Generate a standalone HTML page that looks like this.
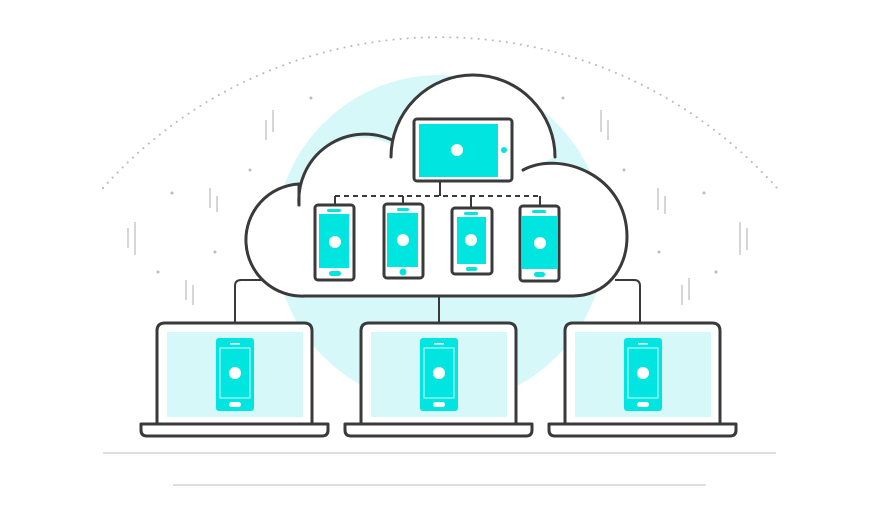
<!DOCTYPE html>
<html><head><meta charset="utf-8"><style>html,body{margin:0;padding:0;background:#fff}svg{display:block}</style></head><body>
<svg width="878" height="521" viewBox="0 0 878 521" xmlns="http://www.w3.org/2000/svg">
<circle cx="440" cy="240" r="165" fill="#d6f8f8"/>
<path d="M103 188 A452 452 0 0 1 777 188" fill="none" stroke="#bbb" stroke-width="2" stroke-dasharray="0.1 7" stroke-linecap="round"/>
<g stroke="#c8c8c8" stroke-width="1.5">
<line x1="266" y1="120" x2="266" y2="140"/><line x1="273" y1="110" x2="273" y2="132"/>
<line x1="210" y1="188" x2="210" y2="208"/><line x1="217" y1="196" x2="217" y2="212"/>
<line x1="128" y1="228" x2="128" y2="248"/><line x1="135" y1="222" x2="135" y2="255"/>
<line x1="186" y1="280" x2="186" y2="300"/><line x1="193" y1="285" x2="193" y2="305"/>
<line x1="601" y1="110" x2="601" y2="132"/><line x1="608" y1="120" x2="608" y2="140"/>
<line x1="658" y1="188" x2="658" y2="210"/><line x1="665" y1="196" x2="665" y2="214"/>
<line x1="740" y1="222" x2="740" y2="255"/><line x1="747" y1="228" x2="747" y2="250"/>
<line x1="682" y1="285" x2="682" y2="305"/><line x1="689" y1="278" x2="689" y2="300"/>
</g>
<g fill="#bbb"><circle cx="311" cy="98" r="1.5"/><circle cx="250" cy="170" r="1.5"/><circle cx="172" cy="193" r="1.5"/><circle cx="215" cy="252" r="1.5"/><circle cx="158" cy="272" r="1.5"/><circle cx="563" cy="98" r="1.5"/><circle cx="624" cy="170" r="1.5"/><circle cx="704" cy="193" r="1.5"/><circle cx="659" cy="252" r="1.5"/><circle cx="716" cy="272" r="1.5"/></g>
<line x1="103" y1="453" x2="776" y2="453" stroke="#ccc" stroke-width="1.2"/>
<line x1="173" y1="485" x2="706" y2="485" stroke="#ccc" stroke-width="1.2"/>
<g fill="none" stroke="#3a3a3a" stroke-width="2">
<path d="M265 280 H241 Q235 280 235 286 V322"/>
<path d="M615 280 H634 Q640 280 640 286 V322"/>
<line x1="439" y1="296" x2="439" y2="322"/>
</g>
<!-- cloud fill -->
<path d="M305 296 A56 56 0 0 1 299 184 A66 66 0 0 1 392 145 A82 82 0 0 1 555 157 L523 170 C560 150 627 175 627 237 C627 270 605 296 573 296 Z" fill="#fff"/>
<path d="M392 140 L392 157 L555 157 L523 170 Z" fill="#fff"/>
<g fill="none" stroke="#3a3a3a" stroke-width="3" stroke-linecap="round">
<path d="M305 296 A56 56 0 0 1 299 184 L299 205"/>
<path d="M299 205 A66 66 0 0 1 392 140"/>
<path d="M391 157 A82 82 0 0 1 555 157"/>
<path d="M523 170 C560 150 627 175 627 237 C627 270 605 296 573 296"/>
<path d="M305 296 L573 296"/>
</g>
<g stroke="#3a3a3a" stroke-width="2" fill="none">
<line x1="440" y1="182" x2="440" y2="196"/>
<line x1="335" y1="196" x2="540" y2="196" stroke-dasharray="5 4"/>
<line x1="335" y1="196" x2="335" y2="204"/><line x1="403" y1="196" x2="403" y2="203"/><line x1="471" y1="196" x2="471" y2="207"/><line x1="540" y1="196" x2="540" y2="205"/>
</g>
<rect x="414" y="119" width="98" height="62" rx="3" fill="#fff" stroke="#3a3a3a" stroke-width="3"/>
<rect x="419" y="124" width="79" height="53" fill="#00e5df"/><circle cx="457" cy="150" r="6" fill="#fff"/><circle cx="504" cy="150" r="3" fill="#00e5df"/>
<g stroke="#3a3a3a" stroke-width="3" fill="#fff">
<rect x="315" y="205" width="39" height="75" rx="3"/><rect x="384" y="204" width="39" height="74" rx="3"/><rect x="452" y="208" width="40" height="66" rx="3"/><rect x="520" y="206" width="39" height="75" rx="3"/>
</g>
<g fill="#00e5df">
<rect x="319" y="214" width="30" height="54"/><rect x="327" y="209" width="14" height="3" rx="1.5"/><rect x="329" y="271" width="12" height="5" rx="2.5"/>
<rect x="387" y="213" width="31" height="54"/><rect x="397" y="208" width="12" height="3" rx="1.5"/><circle cx="403" cy="272" r="3.5"/>
<rect x="457" y="217" width="29" height="47"/><rect x="464" y="212" width="14" height="3" rx="1.5"/><rect x="466" y="267" width="11" height="4" rx="2"/>
<rect x="522" y="216" width="36" height="53"/><rect x="532" y="210" width="14" height="3" rx="1.5"/><rect x="534" y="272" width="11" height="5" rx="2.5"/>
</g>
<g fill="#fff"><circle cx="335" cy="242" r="6"/><circle cx="403" cy="240" r="6"/><circle cx="471" cy="240" r="6"/><circle cx="540" cy="243" r="6"/></g>
<defs><g id="lap">
<path d="M0 103 V10 Q0 2 8 2 H147 Q155 2 155 10 V103" fill="#fff" stroke="#3a3a3a" stroke-width="3"/>
<rect x="10" y="11" width="136" height="85" fill="#d6f8f8"/>
<path d="M-16 103 H171 V109 Q171 115 165 115 H-10 Q-16 115 -16 109 Z" fill="#fff" stroke="#3a3a3a" stroke-width="3" stroke-linejoin="round"/>
<rect x="59" y="17" width="38" height="73" rx="3" fill="#00e5df"/>
<rect x="63" y="27" width="30" height="50" fill="none" stroke="#cffaf8" stroke-width="1"/>
<rect x="73" y="22" width="10" height="1.5" fill="#fff"/>
<circle cx="78" cy="52" r="6" fill="#fff"/>
<rect x="72" y="81" width="12" height="5" rx="2.5" fill="#fff"/>
</g></defs>
<use href="#lap" x="157" y="321"/>
<use href="#lap" x="361" y="321"/>
<use href="#lap" x="565" y="321"/>
</svg>
</body></html>
